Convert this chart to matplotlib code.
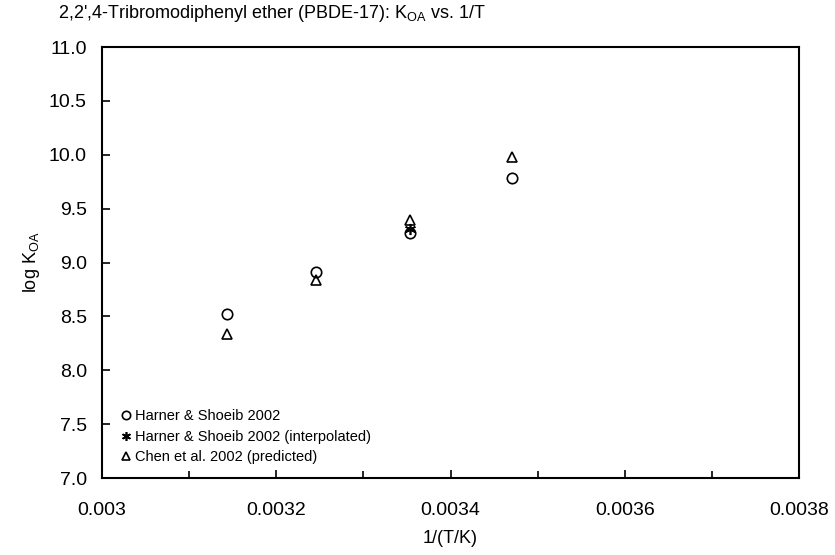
import matplotlib
matplotlib.use("Agg")
import matplotlib.pyplot as plt
from matplotlib.ticker import MultipleLocator, FixedLocator

plt.rcParams['font.family'] = ['Liberation Sans', 'DejaVu Sans']
plt.rcParams['mathtext.fontset'] = 'custom'
plt.rcParams['mathtext.rm'] = 'Liberation Sans'
plt.rcParams['mathtext.it'] = 'Liberation Sans'

# Harner & Shoeib 2002 (measured)
hs_x = [1 / 318.15, 1 / 308.15, 1 / 298.15, 1 / 288.15]
hs_y = [8.52, 8.91, 9.27, 9.78]

# Harner & Shoeib 2002 (interpolated at 25 C)
hsi_x = [1 / 298.15]
hsi_y = [9.31]

# Chen et al. 2002 (predicted)
chen_x = [1 / 318.15, 1 / 308.15, 1 / 298.15, 1 / 288.15]
chen_y = [8.34, 8.84, 9.39, 9.98]

x_ticks = [0.003, 0.0032, 0.0034, 0.0036, 0.0038]
x_labels = ['0.003', '0.0032', '0.0034', '0.0036', '0.0038']

fig = plt.figure(figsize=(8.35, 5.55), dpi=100)
ax = fig.add_axes([0.1222, 0.1387, 0.8347, 0.7766])

ax.plot(hs_x, hs_y, linestyle='none', marker='o', markersize=7.5,
        markerfacecolor='none', markeredgecolor='black', markeredgewidth=1.2,
        label='Harner & Shoeib 2002')
ax.plot(hsi_x, hsi_y, linestyle='none', marker=(6, 2, 0), markersize=8,
        color='black', markeredgewidth=1.2,
        label='Harner & Shoeib 2002 (interpolated)')
ax.plot(chen_x, chen_y, linestyle='none', marker='^', markersize=7.5,
        markerfacecolor='none', markeredgecolor='black', markeredgewidth=1.2,
        label='Chen et al. 2002 (predicted)')

ax.set_xlim(0.003, 0.0038)
ax.set_ylim(7.0, 11.0)
ax.xaxis.set_major_locator(FixedLocator(x_ticks))
ax.set_xticklabels(x_labels)
ax.xaxis.set_minor_locator(MultipleLocator(0.0001))
ax.yaxis.set_major_locator(MultipleLocator(0.5))
ax.yaxis.set_major_formatter(plt.FormatStrFormatter('%.1f'))

ax.tick_params(axis='both', which='both', direction='in', labelsize=14,
               top=False, right=False, width=1.2)
ax.tick_params(axis='y', which='major', length=6, pad=11)
ax.tick_params(axis='x', which='major', length=6, pad=17)
ax.tick_params(axis='x', which='minor', length=5)
for s in ax.spines.values():
    s.set_linewidth(1.5)

ax.set_xlabel('1/(T/K)', fontsize=13, labelpad=8)
ax.set_ylabel(r'log K$_{\mathrm{OA}}$', fontsize=13, labelpad=5)

fig.text(58 / 835, 1 - 13 / 555,
         r"2,2',4-Tribromodiphenyl ether (PBDE-17): K$_{\mathrm{OA}}$ vs. 1/T",
         fontsize=13, ha='left', va='center')

leg = ax.legend(loc='lower left', bbox_to_anchor=(0.008, 0.0), frameon=False,
                fontsize=10.5, handlelength=0.6, handletextpad=0.3,
                labelspacing=0.45, borderaxespad=0.55, markerscale=0.8)

fig.savefig('out.png', dpi=100)
